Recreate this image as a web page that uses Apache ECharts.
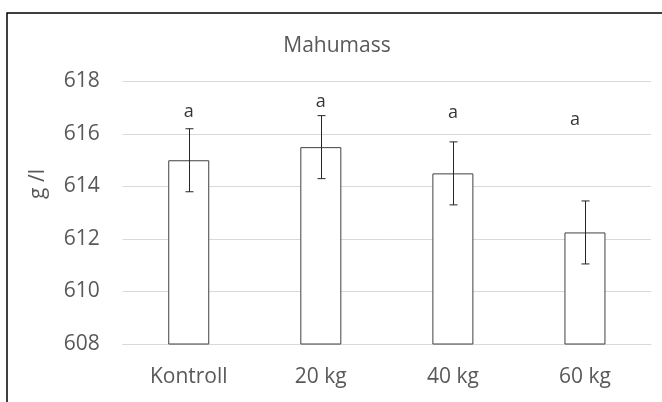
<!DOCTYPE html>
<html>
<head>
<meta charset="utf-8">
<script src="https://cdn.jsdelivr.net/npm/echarts@6/dist/echarts.min.js"></script>
<style>
html,body{margin:0;padding:0;background:#fff;}
#chart{width:662px;height:402px;}
</style>
</head>
<body>
<div id="chart"></div>
<script>
var categories = ['Kontroll', '20 kg', '40 kg', '60 kg'];
var means = [615.0, 615.5, 614.5, 612.25];
var errors = [1.2, 1.2, 1.2, 1.2];
var letters = ['a', 'a', 'a', 'a'];
var letterY = [616.85, 617.22, 616.81, 616.53];
var yTicks = { min: 608, max: 618, interval: 2 };
var titleText = 'Mahumass';
var yTitle = 'g /l';

var FONT = '"Open Sans", "Noto Sans", sans-serif';
var chart = echarts.init(document.getElementById('chart'), null, { renderer: 'canvas' });

var errData = categories.map(function (c, i) { return [i, means[i] - errors[i], means[i] + errors[i]]; });
var letterData = categories.map(function (c, i) { return [i, letterY[i]]; });

chart.setOption({
  animation: false,
  backgroundColor: '#fff',
  graphic: [
    { type: 'rect', shape: { x: 7, y: 13, width: 700, height: 420 }, style: { fill: 'none', stroke: '#000', lineWidth: 1.5 }, z: 0 },
    { type: 'text', x: 337, y: 46, style: { text: titleText, font: '21px ' + FONT, fill: '#595959', align: 'center', verticalAlign: 'middle' } },
    { type: 'text', x: 38, y: 184, rotation: Math.PI / 2, style: { text: yTitle, font: '21px ' + FONT, fill: '#595959', align: 'center', verticalAlign: 'middle' } }
  ],
  grid: { left: 122.7, right: 11, top: 81.5, bottom: 58, containLabel: false },
  xAxis: {
    type: 'category',
    data: categories,
    axisLine: { show: true, lineStyle: { color: '#d9d9d9', width: 1 } },
    axisTick: { show: false },
    axisLabel: { color: '#595959', fontSize: 21, fontFamily: FONT, margin: 23 }
  },
  yAxis: {
    type: 'value',
    min: yTicks.min, max: yTicks.max, interval: yTicks.interval,
    axisLine: { show: false },
    axisTick: { show: false },
    splitLine: { lineStyle: { color: '#d9d9d9', width: 1 } },
    axisLabel: { color: '#595959', fontSize: 21, fontFamily: FONT, margin: 23 }
  },
  series: [
    {
      type: 'bar',
      data: means,
      barWidth: 41,
      itemStyle: { color: '#ffffff', borderColor: '#404040', borderWidth: 1 },
      z: 2
    },
    {
      type: 'custom',
      data: errData,
      z: 3,
      renderItem: function (params, api) {
        var x = api.value(0);
        var lo = api.coord([x, api.value(1)]);
        var hi = api.coord([x, api.value(2)]);
        var cx = Math.round(lo[0]) + 0.5;
        var hw = 4;
        var st = { stroke: '#262626', lineWidth: 1 };
        return {
          type: 'group',
          children: [
            { type: 'line', shape: { x1: cx, y1: hi[1], x2: cx, y2: lo[1] }, style: st },
            { type: 'line', shape: { x1: cx - hw, y1: hi[1], x2: cx + hw, y2: hi[1] }, style: st },
            { type: 'line', shape: { x1: cx - hw, y1: lo[1], x2: cx + hw, y2: lo[1] }, style: st }
          ]
        };
      }
    },
    {
      type: 'scatter',
      data: letterData,
      symbolSize: 0,
      z: 4,
      label: {
        show: true,
        position: 'inside',
        formatter: function (p) { return letters[p.dataIndex]; },
        color: '#000',
        fontSize: 18,
        fontFamily: FONT
      },
      labelLayout: function (p) {
        return p.dataIndex === 3 ? { dx: -10 } : {};
      }
    }
  ]
});
</script>
</body>
</html>
